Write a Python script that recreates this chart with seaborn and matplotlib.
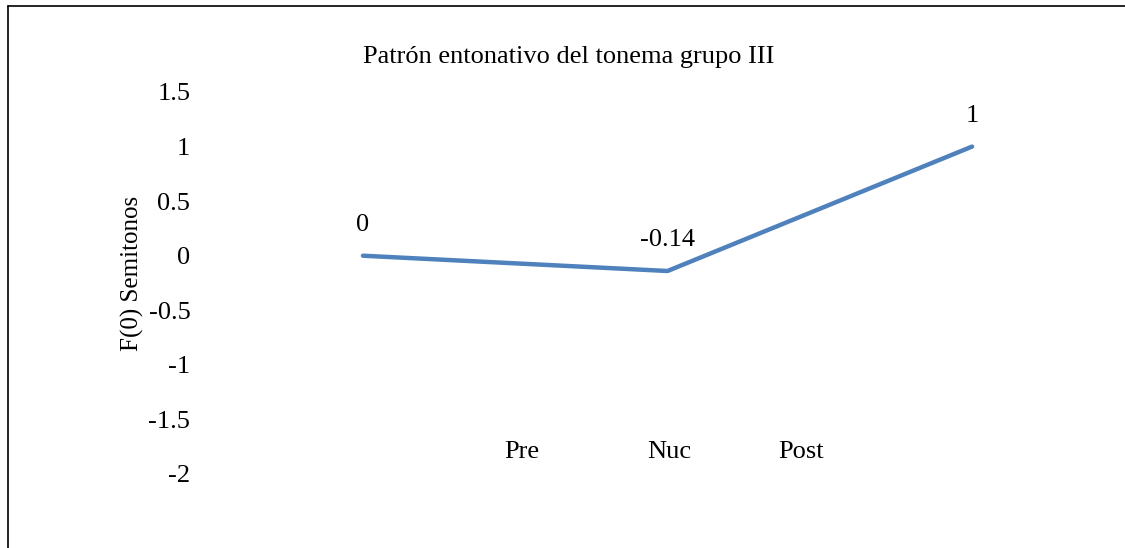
import matplotlib
matplotlib.use("Agg")
import matplotlib.pyplot as plt
import seaborn as sns
import pandas as pd
from matplotlib.lines import Line2D

# data
segments = ["Pre", "Nuc", "Post"]
f0_values = [0, -0.14, 1]
point_labels = ["0", "-0.14", "1"]
y_ticks = [-2, -1.5, -1, -0.5, 0, 0.5, 1, 1.5]
y_tick_labels = ["-2", "-1.5", "-1", "-0.5", "0", "0.5", "1", "1.5"]

sns.set_style("white")
plt.rcParams['font.family'] = ['Liberation Serif', 'DejaVu Serif']
plt.rcParams['text.color'] = 'black'
plt.rcParams['axes.labelcolor'] = 'black'
plt.rcParams['ytick.color'] = 'black'

df = pd.DataFrame({"pos": range(len(f0_values)), "f0": f0_values})

fig = plt.figure(figsize=(11.25, 5.48), dpi=100)
ax = fig.add_axes([200 / 1125, 74 / 548, 900 / 1125, 382 / 548])

sns.lineplot(data=df, x="pos", y="f0", ax=ax, color="#4F81BD", linewidth=3.2)

fs = 19
ax.set_xlim(-0.535, 2.42)
ax.set_ylim(-2, 1.5)
ax.set_yticks(y_ticks)
ax.set_yticklabels(y_tick_labels, fontsize=fs)
ax.tick_params(axis="y", length=0, pad=7)
ax.set_xticks([])
ax.set_xlabel("")
ax.set_ylabel("F(0) Semitonos", fontsize=18)
ax.yaxis.set_label_coords(-0.062, 0.526)
for s in ax.spines.values():
    s.set_visible(False)

# value labels above the points
for i, (v, lab) in enumerate(zip(f0_values, point_labels)):
    ax.annotate(lab, (i, v), xytext=(0, 22), textcoords="offset points",
                ha="center", va="center", fontsize=fs)

# category labels (drawn inside the plot area like the original)
seg_x = [0.52, 1.005, 1.44]
for x, lab in zip(seg_x, segments):
    ax.text(x, -1.8, lab, ha="center", va="center", fontsize=fs)

fig.text(569 / 1125, 1 - 57 / 548, "Patrón entonativo del tonema grupo III",
         ha="center", va="center", fontsize=fs)

# chart border (top and left visible)
fig.add_artist(Line2D([8 / 1125, 1], [1 - 6 / 548, 1 - 6 / 548],
                      transform=fig.transFigure, color="black", linewidth=1.2))
fig.add_artist(Line2D([8 / 1125, 8 / 1125], [0, 1 - 6 / 548],
                      transform=fig.transFigure, color="black", linewidth=1.2))

fig.savefig("out.png", dpi=100)
